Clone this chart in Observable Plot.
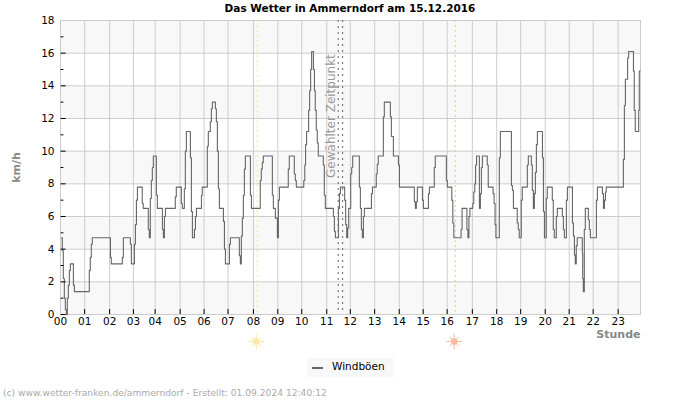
<!DOCTYPE html>
<html><head><meta charset="utf-8">
<script src="https://cdn.jsdelivr.net/npm/d3@7"></script>
<script src="https://cdn.jsdelivr.net/npm/@observablehq/plot@0.6"></script>
<style>
html,body{margin:0;padding:0;background:#fff;font-family:"DejaVu Sans",sans-serif;width:700px;height:400px;overflow:hidden}
#title{height:15px;line-height:17px;font-size:10.5px;font-weight:bold;text-align:center;color:#000}
#chart svg{display:block}
#legend{position:absolute;left:307px;top:358px;width:87px;height:19px;background:#f8f8f8;font-size:10.5px;line-height:19px;color:#000}
#legend i{position:absolute;left:5px;top:8.5px;width:11px;height:2px;background:#666}
#legend span{position:absolute;left:25px;top:-1px}
#foot{position:absolute;left:3px;top:387px;font-size:9.15px;line-height:13px;color:#aaa;white-space:nowrap}
</style></head><body>
<div id="title"></div><div id="chart"></div>
<div id="legend"><i></i><span></span></div><div id="foot"></div>
<script>
const titleText = "Das Wetter in Ammerndorf am 15.12.2016";
const footText = "(c) www.wetter-franken.de/ammerndorf - Erstellt: 01.09.2024 12:40:12";
const seriesName = "Windböen";
const hourLabels = ["00","01","02","03","04","05","06","07","08","09","10","11","12","13","14","15","16","17","18","19","20","21","22","23"];
const hourSlots = [0,12,24.4,36.2,47,59.4,71.3,83.2,95.8,107.9,119.8,132.2,143.9,156,168.2,180.1,192,204.5,216.6,228.5,240.7,252.6,264.5,276.9];
const slotCount = 288;
const majorY = [0,2,4,6,8,10,12,14,16,18];
const minorY = [1,3,5,7,9,11,13,15,17];
const bandLow = [0,4,8,12,16];
const sunSlots = [97.7,196];
const selectedSlots = [137.9,140.1];
const slots = [0.4,0.9,1.4,1.9,2.4,2.9,3.4,3.9,4.4,4.9,6.4,6.9,14.3,14.8,15.3,15.8,24.8,25.2,30.7,31.2,34.7,35.2,36.7,37.2,37.7,38.2,40.6,41.1,43.6,44.1,44.6,45.1,45.6,46.1,47.6,48.1,50.6,51.1,51.6,52.1,57,57.5,60,60.5,61.5,62,62.5,64.5,65,65.5,66.5,67,67.5,70,70.4,72.9,73.4,74.4,74.9,75.4,76.9,77.4,77.9,78.4,78.9,80.9,81.4,81.9,83.9,84.4,88.8,89.3,89.8,90.3,90.8,91.3,91.8,94.3,94.8,99.2,99.7,100.2,100.7,105.2,105.7,106.7,107.7,108.2,108.7,113.1,113.6,116.1,116.6,117.1,120.8,121.3,121.7,122.2,123.2,123.7,124.2,124.7,125.6,126.1,126.5,127,127.5,128,130.5,131,131.5,135.5,136,136.5,138,138.5,139,141.1,141.6,142.1,142.6,143.1,144.1,144.6,145.1,148.4,148.9,149.4,149.9,150.4,150.9,154.4,154.9,156.8,157.3,157.8,160.3,160.8,163.8,164.3,165.3,167.8,168.3,175.7,176.2,176.7,177.2,179.7,180.2,182.7,183.2,185.6,186.1,191.6,192.1,194.3,194.8,195.3,198.9,199.4,201.8,202.3,202.8,203.3,204.7,205.2,205.7,206.1,206.6,208,208.5,209,209.5,211.9,212.4,214.8,215.3,215.8,216.2,217.9,218.4,223.9,224.4,224.9,226.8,227.3,227.8,228.8,229.3,231.8,232.3,233.8,234.3,234.8,235.3,235.8,236.3,236.8,239.3,239.8,240.3,241.2,241.7,244.2,244.7,245.2,246.2,246.7,249.2,249.7,250.2,251.2,251.7,254.2,254.7,255.2,255.6,256.1,256.6,259.1,259.3,259.6,260.1,260.6,262.1,262.6,263.1,266.1,266.6,269.1,269.6,270.1,270.6,271,279.5,280,280.5,281.6,282.1,284.5,284.9,285.4,287.1,287.4,287.7];
const gusts = [4.7,3.9,2.2,1,0.3,0,1,1.8,2.7,3.1,1.8,1.4,2.7,3.5,4.3,4.7,3.5,3.1,3.5,4.7,4.3,3.1,4.3,5.5,7,7.8,6.8,6.5,5.2,4.7,7.1,8.2,9,9.7,7.3,6.5,5.2,4.7,6,6.5,7.2,7.8,6.8,6.5,7.7,10,11.2,9.6,6.3,4.7,5.2,6,6.5,7.3,7.8,10.3,11.2,11.8,12.6,13,12.6,11.8,10,7.7,6.5,5.7,4,3.1,4.3,4.7,3.6,3.1,4.8,5.9,7.3,8.9,9.7,7.3,6.5,8.2,8.9,9.3,9.7,7.3,6.5,5.9,4.7,7,7.8,8.9,9.7,8.6,8.2,7.8,8.2,9.15,10.4,11.2,12.5,13.7,15,16.1,15,13.7,12.5,11.3,10.5,9.7,9.15,7.3,6.5,6,5.1,4.7,6.5,7.4,7.8,7,5.5,4.7,5.3,6.5,8.6,9,9.7,7.8,6.5,5.2,4.7,6,6.5,7.4,7.8,8.6,9.2,9.7,12.1,13,12.1,10.9,9.7,9.15,7.8,6.9,6.5,6.9,7.8,7,6.5,7.4,7.8,9,9.7,8.2,7.8,7,5.6,4.7,5.2,6.5,5.2,4.7,6,6.5,6.8,7.5,8,9.15,9.7,6.5,7.4,9,9.7,9.15,7.8,7.4,6.8,5.5,4.7,9.6,11.2,7.9,7.6,6.5,5.6,5.2,4.7,7,7.8,9.15,9.7,9.15,7.6,6.5,7.4,8.7,10.4,11.2,9.6,6.3,4.7,7.1,7.8,7,5.2,4.7,6,6.5,6,5.2,4.7,7,7.8,5.6,4.8,3.65,3.1,4.2,4.7,3.75,2.2,1.4,5.2,6.5,5.8,5.2,4.7,7,7.8,7.4,6.5,7,7.5,7.8,9.5,12.8,14.4,15.7,16.1,14.9,12.5,11.2,12.5,14.9,14.9];
const points = slots.map((s,i)=>({slot:s,gust:gusts[i]}));
const hourText = new Map(hourSlots.map((s,i)=>[s,hourLabels[i]]));
const sunColors = ["#f3e88e","#f6c27a"];
const sunFills = ["#fde9a6","#fdb8a0"];

document.getElementById("title").textContent = titleText;
document.getElementById("foot").textContent = footText;
document.querySelector("#legend span").textContent = seriesName;

const sunMarks = sunSlots.flatMap((s,i)=>[
  Plot.dot([s-0.5],{x:d=>d,y:()=>0,dy:27,symbol:"plus",r:5,stroke:sunFills[i],strokeWidth:1}),
  Plot.dot([s-0.5],{x:d=>d,y:()=>0,dy:27,symbol:"times",r:4.2,stroke:sunFills[i],strokeWidth:1}),
  Plot.dot([s-0.5],{x:d=>d,y:()=>0,dy:27,r:3.2,fill:sunFills[i]}),
  Plot.ruleX([s],{stroke:sunColors[i],strokeDasharray:"2,3",strokeWidth:1})
]);

const chart = Plot.plot({
  width:700,height:335,marginLeft:60,marginRight:60,marginTop:5,marginBottom:36,
  style:{fontFamily:"DejaVu Sans",fontSize:"10.5px",background:"transparent",color:"#000",overflow:"visible"},
  x:{domain:[0,slotCount],axis:null},
  y:{domain:[0,18],axis:null},
  marks:[
    Plot.rectY(bandLow,{x1:0,x2:slotCount,y1:d=>d,y2:d=>d+2,fill:"#f8f8f8",inset:0}),
    Plot.ruleY(majorY,{stroke:"#ccc",strokeWidth:1}),
    Plot.ruleX(hourSlots,{stroke:"#ccc",strokeWidth:1}),
    Plot.frame({stroke:"#ccc",strokeWidth:1}),
    ...sunMarks,
    Plot.ruleX(selectedSlots,{stroke:"#666",strokeDasharray:"2,4",strokeWidth:1}),
    Plot.text(["Gewählter Zeitpunkt"],{x:()=>134.3,y:()=>8.36,rotate:-90,textAnchor:"start",fontSize:12,fill:"#999"}),
    Plot.line(points,{x:"slot",y:"gust",curve:"step-after",stroke:"#666",strokeWidth:1.1}),
    Plot.ruleY(majorY.slice(0,-1),{x1:0.3,x2:2.8,stroke:"#000",strokeWidth:1}),
    Plot.ruleY(minorY,{x1:0.3,x2:1.7,stroke:"#000",strokeWidth:1}),
    Plot.ruleX(hourSlots.slice(1),{y1:0,y2:0.3,stroke:"#000",strokeWidth:1}),
    Plot.axisY({ticks:majorY,tickSize:0,tickPadding:6,label:null,fontSize:10.5}),
    Plot.axisX({ticks:hourSlots,tickSize:0,tickPadding:3,label:null,tickFormat:d=>hourText.get(d),fontSize:10.5}),
    Plot.text(["km/h"],{x:()=>0,y:()=>9,dx:-44,rotate:-90,fontWeight:"bold",fontSize:11,fill:"#888"}),
    Plot.text(["Stunde"],{frameAnchor:"bottom-right",dx:0,dy:23,textAnchor:"end",fontWeight:"bold",fontSize:11,fill:"#888"})
  ]
});
document.getElementById("chart").append(chart);
</script></body></html>
